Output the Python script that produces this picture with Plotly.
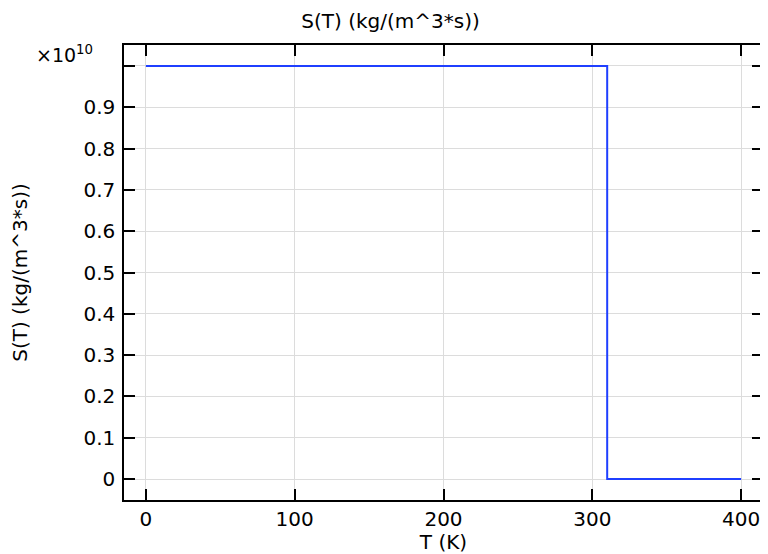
import plotly.graph_objects as go

# Data
T_vals = [0, 310, 400]
S_vals = [1e10, 0, 0]
x_ticks = [0, 100, 200, 300, 400]
y_ticks = [0, 0.1e10, 0.2e10, 0.3e10, 0.4e10, 0.5e10, 0.6e10, 0.7e10, 0.8e10, 0.9e10, 1.0e10]
y_tick_labels = ["0", "0.1", "0.2", "0.3", "0.4", "0.5", "0.6", "0.7", "0.8", "0.9", ""]

FONT = "DejaVu Sans"
FS = 20

fig = go.Figure()
fig.add_trace(go.Scatter(
    x=T_vals, y=S_vals, mode="lines", line_shape="hv",
    line=dict(color="#1f3fff", width=2), showlegend=False,
))

# page body has an 8px margin, so the figure is offset by (8, 8)
fig.update_layout(
    width=765, height=546,
    margin=dict(l=116, r=8, t=37, b=54),
    paper_bgcolor="white", plot_bgcolor="white",
    font=dict(family=FONT, size=FS, color="black"),
    title=dict(text="S(T) (kg/(m^3*s))", x=0.5, xanchor="center", y=0.977, yanchor="middle",
               font=dict(family=FONT, size=FS, color="black")),
)

fig.update_xaxes(
    range=[-14.7, 414.7], tickvals=x_ticks, ticktext=[str(v) for v in x_ticks],
    showgrid=True, gridcolor="#dcdcdc", gridwidth=1, zeroline=False,
    showline=True, linecolor="black", linewidth=1.5, mirror="allticks",
    ticks="inside", ticklen=11, tickwidth=1.5, tickcolor="black",
    title=dict(text="T (K)", standoff=0, font=dict(size=FS)),
    tickfont=dict(size=FS),
)
fig.update_yaxes(
    range=[-0.0508e10, 1.0508e10], tickvals=y_ticks, ticktext=y_tick_labels,
    showgrid=True, gridcolor="#dcdcdc", gridwidth=1, zeroline=False,
    showline=True, linecolor="black", linewidth=1.5, mirror="allticks",
    ticks="inside", ticklen=11, tickwidth=1.5, tickcolor="black",
    ticklabelstandoff=3,
    title=dict(text="S(T) (kg/(m^3*s))", standoff=52, font=dict(size=FS)),
    tickfont=dict(size=FS),
)

fig.add_annotation(
    text="×10<sup>10</sup>", xref="paper", yref="paper", x=-0.045, y=0.95,
    xanchor="right", yanchor="bottom", showarrow=False,
    font=dict(family=FONT, size=19, color="black"),
)

fig.write_html("out.html")
